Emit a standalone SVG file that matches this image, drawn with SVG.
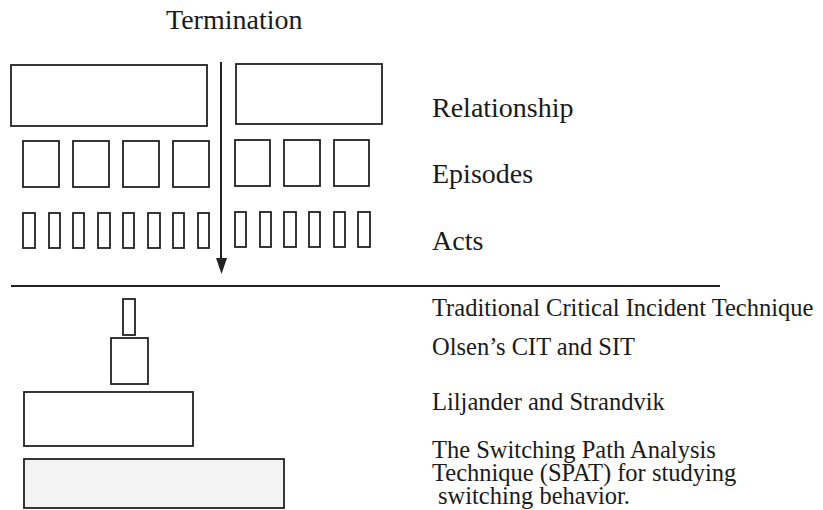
<svg xmlns="http://www.w3.org/2000/svg" width="823" height="510" viewBox="0 0 823 510">
<style>
.b{fill:#fff;stroke:#222;stroke-width:1.8}
.g{fill:#f3f3f3;stroke:#222;stroke-width:1.8}
text{fill:#1a1a1a}
.big{font-size:28px}
.sm{font-size:24.5px}
</style>
<rect width="823" height="510" fill="#fff"/>
<g font-family="'Liberation Serif', 'DejaVu Serif', serif">
<text class="big" x="166" y="29">Termination</text>
<g id="relationship">
<rect class="b" x="11" y="65" width="196" height="61"/>
<rect class="b" x="236" y="64" width="146" height="60"/>
<text class="big" x="432" y="117">Relationship</text>
</g>
<g id="episodes">
<rect class="b" x="23" y="141" width="36" height="46"/>
<rect class="b" x="73" y="141" width="36" height="46"/>
<rect class="b" x="123" y="141" width="36" height="46"/>
<rect class="b" x="173" y="141" width="36" height="46"/>
<rect class="b" x="235" y="140" width="35" height="46"/>
<rect class="b" x="284" y="140" width="36" height="46"/>
<rect class="b" x="334" y="140" width="35" height="46"/>
<text class="big" x="432" y="183">Episodes</text>
</g>
<g id="acts">
<rect class="b" x="23" y="213" width="12" height="35"/>
<rect class="b" x="49" y="213" width="11" height="35"/>
<rect class="b" x="73" y="213" width="11" height="35"/>
<rect class="b" x="98" y="213" width="12" height="35"/>
<rect class="b" x="123" y="213" width="11" height="35"/>
<rect class="b" x="148" y="213" width="12" height="35"/>
<rect class="b" x="173" y="213" width="11" height="35"/>
<rect class="b" x="198" y="213" width="11" height="35"/>
<rect class="b" x="235" y="212" width="11" height="35"/>
<rect class="b" x="260" y="212" width="11" height="35"/>
<rect class="b" x="284" y="212" width="12" height="35"/>
<rect class="b" x="309" y="212" width="11" height="35"/>
<rect class="b" x="334" y="212" width="11" height="35"/>
<rect class="b" x="358" y="212" width="12" height="35"/>
<text class="big" x="432" y="250">Acts</text>
</g>
<g id="connectors">
<line x1="221" y1="62" x2="221" y2="260" stroke="#222" stroke-width="2"/>
<polygon points="216,258 227,258 221.5,274" fill="#222"/>
<line x1="11" y1="286" x2="720" y2="286" stroke="#222" stroke-width="2"/>
</g>
<g id="cit">
<rect class="b" x="123" y="299" width="12" height="36"/>
<text class="sm" x="432" y="316">Traditional Critical Incident Technique</text>
</g>
<g id="olsen">
<rect class="b" x="111" y="338" width="37" height="46"/>
<text class="sm" x="432" y="355">Olsen’s CIT and SIT</text>
</g>
<g id="liljander">
<rect class="b" x="24" y="392" width="169" height="54"/>
<text class="sm" x="432" y="410">Liljander and Strandvik</text>
</g>
<g id="spat">
<rect class="g" x="24" y="459" width="260" height="49"/>
<text class="sm" x="432" y="458">The Switching Path Analysis</text>
<text class="sm" x="432" y="481">Technique (SPAT) for studying</text>
<text class="sm" x="438" y="504">switching behavior.</text>
</g>
</g>
</svg>
